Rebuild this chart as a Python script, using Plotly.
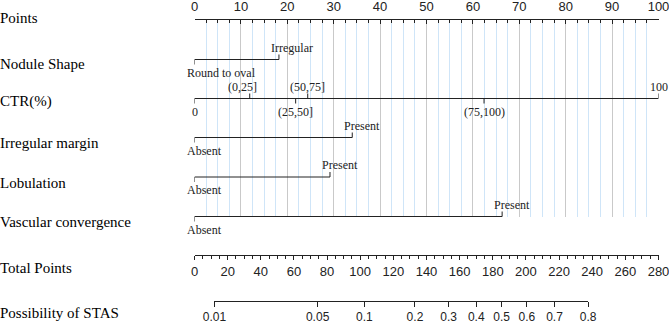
import numpy as np
import plotly.graph_objects as go

# ---------------- data ----------------
row_names = ["Points", "Nodule Shape", "CTR(%)", "Irregular margin", "Lobulation",
             "Vascular convergence", "Total Points", "Possibility of STAS"]

nodule_levels = ["Round to oval", "Irregular"]
nodule_points = [0, 18.2]

ctr_levels = ["0", "(0,25]", "(25,50]", "(50,75]", "(75,100)", "100"]
ctr_points = [0, 11.9, 21.8, 24.4, 62.4, 100]

margin_levels = ["Absent", "Present"]
margin_points = [0, 34.0]

lobulation_levels = ["Absent", "Present"]
lobulation_points = [0, 29.2]

vascular_levels = ["Absent", "Present"]
vascular_points = [0, 66.3]

points_range = [0, 100]
total_points_range = [0, 280]

prob_ticks = [0.01, 0.05, 0.1, 0.2, 0.3, 0.4, 0.5, 0.6, 0.7, 0.8]
prob_tick_labels = ["0.01", "0.05", "0.1", "0.2", "0.3", "0.4", "0.5", "0.6", "0.7", "0.8"]
# linear predictor: logit(p) = (total points - tp_at_half) / tp_per_logit
tp_at_half = 185.3
tp_per_logit = 37.7

# ---------------- layout constants (pixels) ----------------
W, H = 669, 324
X0, X1 = 194.5, 658.5
Y_POINTS = 20
ROW_Y = {"nodule": 59.5, "ctr": 98.5, "margin": 137.5, "lob": 177, "vasc": 216.5}
Y_TOTAL = 255
Y_PROB = 301
LABEL_Y = [18, 64, 101, 143, 183, 222, 268, 313]

SERIF = "Liberation Serif, Times New Roman, serif"
SANS = "Liberation Sans, Arial, sans-serif"
INK = "#222222"
GRAY = "#c9c9c9"
BLUE = "#cfe5f8"


def pfrac(ypix):
    return 1 - ypix / H


fig = go.Figure()

# invisible trace to anchor the grid subplot
fig.add_trace(go.Scatter(x=[None], y=[None], xaxis="x", yaxis="y", showlegend=False, hoverinfo="skip"))

rows = [
    ("nodule", nodule_levels, nodule_points, "bin"),
    ("ctr", ctr_levels, ctr_points, "ctr"),
    ("margin", margin_levels, margin_points, "bin"),
    ("lob", lobulation_levels, lobulation_points, "bin"),
    ("vasc", vascular_levels, vascular_points, "bin"),
]

annotations = []
ctr_shift = {"(0,25]": -7}
for key, levels, pts, kind in rows:
    y = ROW_Y[key]
    xs = [min(pts), max(pts), None]
    ys = [y, y, None]
    for i, (lev, p) in enumerate(zip(levels, pts)):
        above = (i % 2 == 1)
        ty = y - 5 if above else y + 5
        xs += [p, p, None]
        ys += [y, ty, None]
        ly = y - 12 if above else y + 13
        if kind == "bin":
            annotations.append(dict(x=p, y=ly, xref="x2", yref="y2", text=lev, showarrow=False,
                                    xanchor="left", yanchor="middle", xshift=-10,
                                    font=dict(family=SERIF, size=12, color=INK)))
        else:
            annotations.append(dict(x=p, y=ly, xref="x2", yref="y2", text=lev, showarrow=False,
                                    xanchor="center", yanchor="middle", xshift=ctr_shift.get(lev, 0),
                                    font=dict(family=SERIF, size=12, color=INK)))
    fig.add_trace(go.Scatter(x=xs, y=ys, mode="lines", line=dict(color=INK, width=1),
                             xaxis="x2", yaxis="y2", showlegend=False, hoverinfo="skip"))

for name, ly in zip(row_names, LABEL_Y):
    annotations.append(dict(x=0, y=pfrac(ly), xref="paper", yref="paper", text=name, showarrow=False,
                            xanchor="left", yanchor="middle", xshift=-2,
                            font=dict(family=SERIF, size=15, color="black")))

# total points & probability axes
fig.add_trace(go.Scatter(x=[None], y=[None], xaxis="x3", yaxis="y3", showlegend=False, hoverinfo="skip"))
fig.add_trace(go.Scatter(x=[None], y=[None], xaxis="x4", yaxis="y4", showlegend=False, hoverinfo="skip"))

logit = np.log(np.array(prob_ticks) / (1 - np.array(prob_ticks)))
prob_tp = tp_at_half + tp_per_logit * logit


def px_of_tp(tp):
    return X0 + (tp - total_points_range[0]) / (total_points_range[1] - total_points_range[0]) * (X1 - X0)


eps = 1e-6
dom = [X0 / W, X1 / W]
fig.update_layout(
    width=W, height=H, autosize=False,
    margin=dict(l=0, r=0, t=0, b=0, pad=0, autoexpand=False),
    paper_bgcolor="white", plot_bgcolor="rgba(0,0,0,0)",
    showlegend=False,
    annotations=annotations,
    xaxis=dict(domain=dom, range=[points_range[0] - eps, points_range[1] + eps], side="top", anchor="y",
               showline=True, linecolor=INK, linewidth=1, ticks="inside", ticklen=4, tickcolor=INK,
               dtick=10, tick0=0, showgrid=True, gridcolor=GRAY, gridwidth=1, zeroline=False,
               tickfont=dict(family=SANS, size=13, color=INK), automargin=False,
               ticklabeloverflow="allow", ticklabelstandoff=3,
               minor=dict(dtick=2.5, tick0=0, ticks="inside", ticklen=3, tickcolor=INK,
                          showgrid=True, gridcolor=BLUE, gridwidth=1),
               fixedrange=True),
    yaxis=dict(domain=[pfrac(ROW_Y["vasc"]), pfrac(Y_POINTS)], range=[0, 1], visible=False, fixedrange=True),
    xaxis2=dict(domain=dom, range=points_range, anchor="y2", visible=False, fixedrange=True),
    yaxis2=dict(domain=[pfrac(240), pfrac(0)], range=[240, 0], visible=False, fixedrange=True),
    xaxis3=dict(domain=dom, range=[total_points_range[0] - eps, total_points_range[1] + eps], anchor="y3",
                side="bottom", showline=True, linecolor=INK, linewidth=1, ticks="outside", ticklen=4,
                tickcolor=INK, dtick=20, tick0=0, showgrid=False, zeroline=False, automargin=False,
                ticklabeloverflow="allow",
                tickfont=dict(family=SANS, size=13, color=INK),
                minor=dict(dtick=5, tick0=0, ticks="outside", ticklen=3, tickcolor=INK, showgrid=False),
                fixedrange=True),
    yaxis3=dict(domain=[pfrac(Y_TOTAL), pfrac(Y_TOTAL - 6)], visible=False, fixedrange=True),
    xaxis4=dict(domain=[px_of_tp(prob_tp[0]) / W, px_of_tp(prob_tp[-1]) / W],
                range=[prob_tp[0] - eps, prob_tp[-1] + eps], anchor="y4", side="bottom",
                showline=True, linecolor=INK, linewidth=1, ticks="outside", ticklen=5, tickcolor=INK,
                tickvals=list(prob_tp), ticktext=prob_tick_labels, showgrid=False, zeroline=False,
                automargin=False, ticklabeloverflow="allow",
                tickfont=dict(family=SANS, size=12, color=INK), fixedrange=True),
    yaxis4=dict(domain=[pfrac(Y_PROB), pfrac(Y_PROB - 6)], visible=False, fixedrange=True),
)

fig.write_html("out.html", config={"responsive": False, "displayModeBar": False})
